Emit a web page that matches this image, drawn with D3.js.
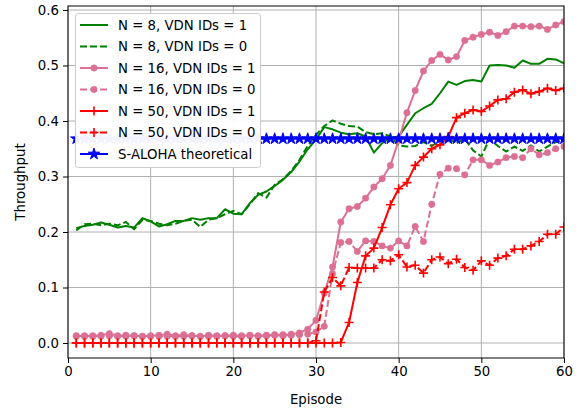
<!DOCTYPE html>
<html>
<head>
<meta charset="utf-8">
<script src="https://cdn.jsdelivr.net/npm/d3@7"></script>
<style>
  body { margin: 0; background: #fff; }
  text { font-family: "DejaVu Sans", sans-serif; }
</style>
</head>
<body>
<svg id="chart" width="587" height="412"></svg>
<script>
const episodes = d3.range(1, 61);

const n8ids1 = [0.207,0.211,0.213,0.217,0.213,0.208,0.211,0.208,0.225,0.219,0.210,0.214,0.220,0.220,0.225,0.222,0.225,0.225,0.241,0.233,0.232,0.252,0.267,0.273,0.283,0.294,0.308,0.327,0.349,0.367,0.389,0.385,0.379,0.376,0.378,0.372,0.343,0.360,0.370,0.372,0.393,0.414,0.423,0.431,0.450,0.471,0.465,0.472,0.474,0.471,0.500,0.501,0.500,0.496,0.509,0.503,0.503,0.512,0.511,0.504];
const n8ids0 = [0.203,0.214,0.215,0.212,0.215,0.212,0.218,0.205,0.222,0.220,0.215,0.212,0.215,0.220,0.222,0.209,0.222,0.225,0.232,0.238,0.232,0.250,0.270,0.262,0.285,0.295,0.310,0.330,0.355,0.375,0.391,0.401,0.395,0.391,0.390,0.380,0.376,0.378,0.372,0.356,0.354,0.355,0.362,0.355,0.364,0.368,0.360,0.368,0.347,0.336,0.368,0.355,0.345,0.354,0.346,0.356,0.345,0.354,0.362,0.366];
const n16ids1 = [0.013,0.012,0.013,0.014,0.017,0.013,0.014,0.013,0.012,0.013,0.014,0.016,0.013,0.015,0.013,0.012,0.014,0.013,0.013,0.014,0.013,0.014,0.013,0.014,0.015,0.015,0.016,0.018,0.025,0.041,0.090,0.137,0.218,0.242,0.246,0.261,0.281,0.296,0.320,0.365,0.415,0.455,0.490,0.509,0.520,0.510,0.516,0.545,0.551,0.556,0.560,0.554,0.561,0.571,0.571,0.570,0.571,0.565,0.573,0.579];
const n16ids0 = [0.012,0.013,0.012,0.012,0.013,0.012,0.012,0.013,0.012,0.012,0.012,0.012,0.012,0.012,0.013,0.012,0.012,0.012,0.013,0.012,0.012,0.013,0.012,0.013,0.014,0.013,0.014,0.015,0.016,0.020,0.030,0.125,0.181,0.183,0.165,0.184,0.183,0.175,0.171,0.184,0.175,0.210,0.183,0.250,0.304,0.315,0.314,0.303,0.330,0.330,0.320,0.326,0.334,0.336,0.334,0.350,0.339,0.343,0.350,0.354];
const n50ids1 = [0,0,0,0,0,0,0,0,0,0,0,0,0,0,0,0,0,0,0,0,0,0,0,0,0,0,0,0,0,0,0,0,0.001,0.037,0.109,0.157,0.171,0.208,0.249,0.278,0.289,0.320,0.335,0.350,0.357,0.372,0.406,0.414,0.420,0.417,0.427,0.438,0.440,0.452,0.456,0.449,0.453,0.459,0.455,0.459];
const n50ids0 = [0,0,0,0,0,0,0,0,0,0,0,0,0,0,0,0,0,0,0,0,0,0,0,0,0,0,0,0,0,0.004,0.092,0.118,0.103,0.136,0.135,0.135,0.135,0.150,0.148,0.159,0.137,0.140,0.126,0.150,0.155,0.143,0.151,0.136,0.131,0.148,0.140,0.153,0.157,0.169,0.169,0.175,0.183,0.196,0.196,0.209];
const sAloha = [0.368,0.368,0.368,0.368,0.368,0.368,0.368,0.368,0.368,0.368,0.368,0.368,0.368,0.368,0.368,0.368,0.368,0.368,0.368,0.368,0.368,0.368,0.368,0.368,0.368,0.368,0.368,0.368,0.368,0.368,0.368,0.368,0.368,0.368,0.368,0.368,0.368,0.368,0.368,0.368,0.368,0.368,0.368,0.368,0.368,0.368,0.368,0.368,0.368,0.368,0.368,0.368,0.368,0.368,0.368,0.368,0.368,0.368,0.368,0.368];

const seriesNames = ["N = 8, VDN IDs = 1","N = 8, VDN IDs = 0","N = 16, VDN IDs = 1","N = 16, VDN IDs = 0","N = 50, VDN IDs = 1","N = 50, VDN IDs = 0","S-ALOHA theoretical"];
const xTicks = [0,10,20,30,40,50,60];
const yTicks = [0.0,0.1,0.2,0.3,0.4,0.5,0.6];

const series = [
  {name: seriesNames[0], values: n8ids1, color: "#008000", dash: null, marker: null},
  {name: seriesNames[1], values: n8ids0, color: "#008000", dash: "7,3", marker: null},
  {name: seriesNames[2], values: n16ids1, color: "#DB7093", dash: null, marker: "circle"},
  {name: seriesNames[3], values: n16ids0, color: "#DB7093", dash: "7,3", marker: "circle"},
  {name: seriesNames[4], values: n50ids1, color: "#FF0000", dash: null, marker: "plus"},
  {name: seriesNames[5], values: n50ids0, color: "#FF0000", dash: "7,3", marker: "plus"},
  {name: seriesNames[6], values: sAloha, color: "#0000FF", dash: null, marker: "star"}
];

const L = 68, R = 564, T = 6, B = 358;
const svg = d3.select("#chart");
const x = d3.scaleLinear().domain([0, 60]).range([L, R]);
const y = d3.scaleLinear().domain([-0.027, 0.6072]).range([B, T]);

svg.append("defs").append("clipPath").attr("id", "clip")
  .append("rect").attr("x", L).attr("y", T).attr("width", R - L).attr("height", B - T);

// grid
const grid = svg.append("g");
grid.selectAll(".gx").data(xTicks).join("line")
  .attr("x1", d => x(d)).attr("x2", d => x(d)).attr("y1", T).attr("y2", B)
  .attr("stroke", "#b0b0b0").attr("stroke-width", 1);
grid.selectAll(".gy").data(yTicks).join("line")
  .attr("y1", d => y(d)).attr("y2", d => y(d)).attr("x1", L).attr("x2", R)
  .attr("stroke", "#b0b0b0").attr("stroke-width", 1);

function drawMarker(sel, type, color) {
  if (type === "circle") {
    sel.append("circle").attr("r", 3.2).attr("fill", color).attr("stroke", color).attr("stroke-width", 0.5);
  } else if (type === "plus") {
    sel.append("path").attr("d", "M-4.5,0H4.5M0,-4.5V4.5").attr("stroke", color).attr("stroke-width", 1.6).attr("fill", "none");
  } else if (type === "star") {
    sel.append("path").attr("d", d3.symbol(d3.symbolStar, 40)()).attr("fill", color).attr("stroke", color).attr("stroke-width", 1);
  }
}

const plot = svg.append("g").attr("clip-path", "url(#clip)");
const line = d3.line().x((d, i) => x(episodes[i])).y(d => y(d));
series.forEach(s => {
  const g = plot.append("g");
  g.append("path").datum(s.values).attr("d", line)
    .attr("fill", "none").attr("stroke", s.color).attr("stroke-width", 2)
    .attr("stroke-dasharray", s.dash).attr("stroke-linejoin", "round");
  if (s.marker) {
    g.selectAll("g.m").data(s.values).join("g")
      .attr("transform", (d, i) => `translate(${x(episodes[i])},${y(d)})`)
      .each(function() { drawMarker(d3.select(this), s.marker, s.color); });
  }
});

// frame
svg.append("rect").attr("x", L).attr("y", T).attr("width", R - L).attr("height", B - T)
  .attr("fill", "none").attr("stroke", "#000").attr("stroke-width", 1);

// axes
const xAxis = d3.axisBottom(x).tickValues(xTicks).tickFormat(d3.format("d")).tickSize(5).tickPadding(4);
const yAxis = d3.axisLeft(y).tickValues(yTicks).tickFormat(d3.format(".1f")).tickSize(5).tickPadding(4);
const gx = svg.append("g").attr("transform", `translate(0,${B})`).call(xAxis);
const gy = svg.append("g").attr("transform", `translate(${L},0)`).call(yAxis);
[gx, gy].forEach(g => {
  g.select(".domain").remove();
  g.selectAll("text").attr("font-size", "13.3px").attr("fill", "#000").style("font-family", "DejaVu Sans");
  g.selectAll("line").attr("stroke", "#000");
});

svg.append("text").attr("x", (L + R) / 2).attr("y", 404).attr("text-anchor", "middle")
  .attr("font-size", "13.3px").text("Episode");
svg.append("text").attr("transform", `translate(25,${(T + B) / 2}) rotate(-90)`).attr("text-anchor", "middle")
  .attr("font-size", "13.3px").text("Throughput");

// legend
const lg = svg.append("g");
lg.append("rect").attr("x", 75.5).attr("y", 13.5).attr("width", 185).attr("height", 154).attr("rx", 3)
  .attr("fill", "#fff").attr("fill-opacity", 0.95).attr("stroke", "#cccccc").attr("stroke-width", 1);
series.forEach((s, i) => {
  const yy = 25 + i * 21.5;
  const e = lg.append("g");
  e.append("line").attr("x1", 80).attr("x2", 108).attr("y1", yy).attr("y2", yy)
    .attr("stroke", s.color).attr("stroke-width", 2).attr("stroke-dasharray", s.dash);
  if (s.marker) {
    const m = e.append("g").attr("transform", `translate(94,${yy})`);
    drawMarker(m, s.marker, s.color);
  }
  e.append("text").attr("x", 118).attr("y", yy).attr("dy", "0.36em")
    .attr("font-size", "13.3px").text(s.name);
});
</script>
</body>
</html>
